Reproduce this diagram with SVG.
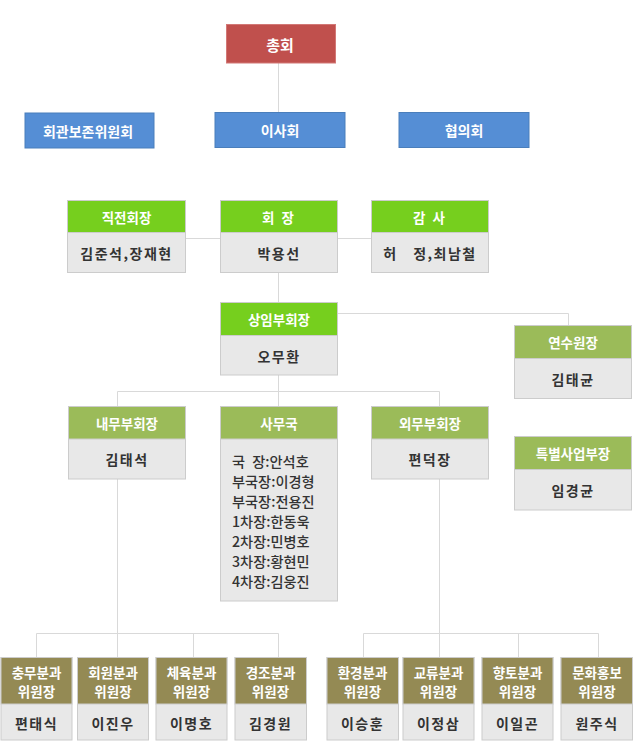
<svg xmlns="http://www.w3.org/2000/svg" width="640" height="754" viewBox="0 0 640 754">
<style>
text{font-family:"Noto Sans CJK KR","Noto Sans",sans-serif;text-anchor:middle;dominant-baseline:central}
.red{fill:#C0504D;stroke:#D27876;stroke-width:1}
.blue{fill:#558ED5;stroke:#4A7EBB;stroke-width:1}
.g1{fill:#76CF1E;stroke:#CCCCCC;stroke-width:1}
.g2{fill:#9BBB59;stroke:#CCCCCC;stroke-width:1}
.br{fill:#948A54;stroke:#CCCCCC;stroke-width:1}
.body{fill:#E8E8E8;stroke:#CCCCCC;stroke-width:1}
.ht{fill:#FFFFFF;font-size:13.5px;font-weight:bold}
.bl{fill:#FFFFFF;font-size:14px;font-weight:bold}
.bt{fill:#333333;font-size:14px;font-weight:bold;letter-spacing:1.5px}
.st{fill:#333333;font-size:14.2px;font-weight:500;text-anchor:start}
.con{fill:none;stroke:#D9D9D9;stroke-width:1}
</style>
<g id="connectors">
<path class="con" d="M278.5 63V112"/>
<path class="con" d="M185 238.5H220M338 238.5H371"/>
<path class="con" d="M278.5 272V302"/>
<path class="con" d="M338 313.5H568.5V325"/>
<path class="con" d="M278.5 375V391.5M117.5 391.5H439.5M117.5 391.5V406M278.5 391.5V406M439.5 391.5V406"/>
<path class="con" d="M117.5 479V657M36.5 633.5H278.5M36.5 633.5V657M193.5 633.5V657M278.5 633.5V657"/>
<path class="con" d="M439.5 479V657M363.5 633.5H598.5M363.5 633.5V657M518.5 633.5V657M598.5 633.5V657"/>
</g>
<g id="chonghoe"><rect class="red" x="226.5" y="24.5" width="109" height="38.5"/><text class="ht" x="280" y="44" style="font-size:15px">총회</text></g>
<g id="hoegwan"><rect class="blue" x="25" y="113" width="129" height="35"/><text class="bl" x="88" y="130.5">회관보존위원회</text></g>
<g id="isahoe"><rect class="blue" x="215" y="112.5" width="130" height="35"/><text class="bl" x="280" y="130">이사회</text></g>
<g id="hyeopuihoe"><rect class="blue" x="399" y="112.5" width="130" height="35"/><text class="bl" x="464" y="130">협의회</text></g>

<g id="jikjeon"><rect class="body" x="67.5" y="200.5" width="118" height="72"/><rect class="g1" x="67.5" y="200.5" width="118" height="32"/><text class="ht" x="126.5" y="216.5">직전회장</text><text class="bt" x="126.5" y="253">김준석,장재현</text></g>
<g id="hoejang"><rect class="body" x="220.5" y="200.5" width="117" height="72"/><rect class="g1" x="220.5" y="200.5" width="117" height="32"/><text class="ht" x="279" y="216.5" style="letter-spacing:2px">회 장</text><text class="bt" x="279" y="253">박용선</text></g>
<g id="gamsa"><rect class="body" x="371.5" y="200.5" width="117" height="72"/><rect class="g1" x="371.5" y="200.5" width="117" height="32"/><text class="ht" x="430" y="216.5" style="letter-spacing:2px">감 사</text><text class="bt" x="430" y="253">허　정,최남철</text></g>

<g id="sangim"><rect class="body" x="220.5" y="302.5" width="117" height="72.5"/><rect class="g1" x="220.5" y="302.5" width="117" height="33"/><text class="ht" x="279" y="319">상임부회장</text><text class="bt" x="279" y="355.5">오무환</text></g>

<g id="yeonsu"><rect class="body" x="514.5" y="325.5" width="117" height="73"/><rect class="g2" x="514.5" y="325.5" width="117" height="33"/><text class="ht" x="573" y="342">연수원장</text><text class="bt" x="573" y="379">김태균</text></g>
<g id="teukbyeol"><rect class="body" x="514.5" y="436.5" width="117" height="73.5"/><rect class="g2" x="514.5" y="436.5" width="117" height="33"/><text class="ht" x="573" y="453">특별사업부장</text><text class="bt" x="573" y="490">임경균</text></g>

<g id="naemu"><rect class="body" x="68.5" y="406.5" width="117" height="72.5"/><rect class="g2" x="68.5" y="406.5" width="117" height="32.5"/><text class="ht" x="127" y="423">내무부회장</text><text class="bt" x="127" y="459">김태석</text></g>
<g id="samuguk"><rect class="body" x="220.5" y="406.5" width="117" height="194.5"/><rect class="g2" x="220.5" y="406.5" width="117" height="32.5"/><text class="ht" x="279" y="423">사무국</text>
<text class="st" x="232" y="460.5">국 <tspan dx="4">장:안석호</tspan></text>
<text class="st" x="232" y="480.5">부국장:이경형</text>
<text class="st" x="232" y="500.5">부국장:전용진</text>
<text class="st" x="232" y="520.5">1차장:한동욱</text>
<text class="st" x="232" y="540.5">2차장:민병호</text>
<text class="st" x="232" y="560.5">3차장:황현민</text>
<text class="st" x="232" y="580.5">4차장:김웅진</text>
</g>
<g id="oemu"><rect class="body" x="371.5" y="406.5" width="117" height="72.5"/><rect class="g2" x="371.5" y="406.5" width="117" height="32.5"/><text class="ht" x="430" y="423">외무부회장</text><text class="bt" x="430" y="459">편덕장</text></g>

<g id="chongmu"><rect class="body" x="1" y="657.5" width="71" height="82.5"/><rect class="br" x="1" y="657.5" width="71" height="46.5"/><text class="ht" x="36.5" y="672">충무분과</text><text class="ht" x="36.5" y="691">위원장</text><text class="bt" x="36.5" y="723">편태식</text></g>
<g id="hoewon"><rect class="body" x="77.5" y="657.5" width="71" height="82.5"/><rect class="br" x="77.5" y="657.5" width="71" height="46.5"/><text class="ht" x="113" y="672">회원분과</text><text class="ht" x="113" y="691">위원장</text><text class="bt" x="113" y="723">이진우</text></g>
<g id="cheyuk"><rect class="body" x="156" y="657.5" width="71" height="82.5"/><rect class="br" x="156" y="657.5" width="71" height="46.5"/><text class="ht" x="191.5" y="672">체육분과</text><text class="ht" x="191.5" y="691">위원장</text><text class="bt" x="191.5" y="723">이명호</text></g>
<g id="gyeongjo"><rect class="body" x="235" y="657.5" width="71.5" height="82.5"/><rect class="br" x="235" y="657.5" width="71.5" height="46.5"/><text class="ht" x="270.5" y="672">경조분과</text><text class="ht" x="270.5" y="691">위원장</text><text class="bt" x="270.5" y="723">김경원</text></g>

<g id="hwangyeong"><rect class="body" x="327" y="657.5" width="71.5" height="82.5"/><rect class="br" x="327" y="657.5" width="71.5" height="46.5"/><text class="ht" x="362.5" y="672">환경분과</text><text class="ht" x="362.5" y="691">위원장</text><text class="bt" x="362.5" y="723">이승훈</text></g>
<g id="gyoryu"><rect class="body" x="403" y="657.5" width="71" height="82.5"/><rect class="br" x="403" y="657.5" width="71" height="46.5"/><text class="ht" x="438.5" y="672">교류분과</text><text class="ht" x="438.5" y="691">위원장</text><text class="bt" x="438.5" y="723">이정삼</text></g>
<g id="hyangto"><rect class="body" x="482" y="657.5" width="71" height="82.5"/><rect class="br" x="482" y="657.5" width="71" height="46.5"/><text class="ht" x="517.5" y="672">향토분과</text><text class="ht" x="517.5" y="691">위원장</text><text class="bt" x="517.5" y="723">이일곤</text></g>
<g id="munhwa"><rect class="body" x="561" y="657.5" width="71.5" height="82.5"/><rect class="br" x="561" y="657.5" width="71.5" height="46.5"/><text class="ht" x="597" y="672">문화홍보</text><text class="ht" x="597" y="691">위원장</text><text class="bt" x="597" y="723">원주식</text></g>
</svg>
